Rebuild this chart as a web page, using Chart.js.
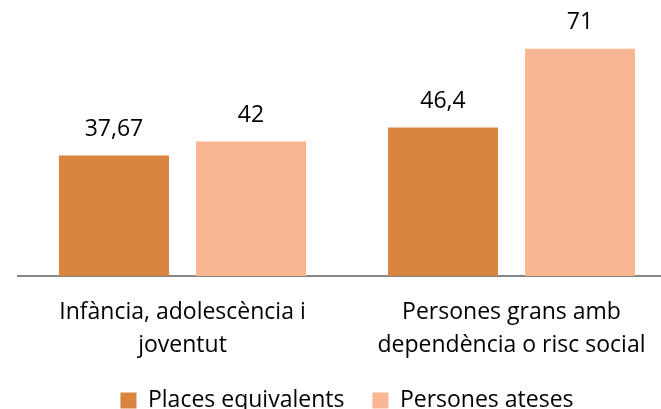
<!DOCTYPE html>
<html>
<head>
<meta charset="utf-8">
<script src="https://cdn.jsdelivr.net/npm/chart.js@4.4.1/dist/chart.umd.min.js"></script>
<style>
  html, body { margin: 0; padding: 0; background: #fff; overflow: hidden; }
  #wrap { width: 676px; height: 422px; }
</style>
</head>
<body>
<div id="wrap"><canvas id="chart"></canvas></div>
<script>
// Data
const categories = [
  ['Infància, adolescència i', 'joventut'],
  ['Persones grans amb', 'dependència o risc social'],
];
const placesEquivalents = [37.67, 46.4];
const personesAteses = [42, 71];
const seriesNames = ['Places equivalents', 'Persones ateses'];

const FONT = '"Open Sans", Lato, sans-serif';

// Value labels above each bar (comma as decimal separator)
const valueLabels = {
  id: 'valueLabels',
  afterDatasetsDraw(chart) {
    const ctx = chart.ctx;
    ctx.save();
    ctx.font = `23px ${FONT}`;
    ctx.fillStyle = '#000';
    ctx.textAlign = 'center';
    ctx.textBaseline = 'middle';
    chart.data.datasets.forEach((ds, i) => {
      chart.getDatasetMeta(i).data.forEach((bar, j) => {
        const txt = String(ds.data[j]).replace('.', ',');
        ctx.fillText(txt, bar.x, bar.y - 26);
      });
    });
    ctx.restore();
  }
};

new Chart(document.getElementById('chart'), {
  type: 'bar',
  data: {
    labels: categories,
    datasets: [
      { label: seriesNames[0], data: placesEquivalents, backgroundColor: '#D9843F' },
      { label: seriesNames[1], data: personesAteses, backgroundColor: '#F8B692' },
    ]
  },
  options: {
    responsive: true,
    maintainAspectRatio: false,
    animation: false,
    layout: { padding: { top: 20, left: 18, right: 0, bottom: 0 } },
    datasets: {
      bar: { categoryPercentage: 0.833, barPercentage: 0.803 }
    },
    plugins: {
      legend: {
        position: 'bottom',
        fullSize: false,
        labels: {
          boxWidth: 16,
          boxHeight: 16,
          padding: 28,
          color: '#000',
          font: { family: FONT, size: 23 }
        }
      },
      tooltip: { enabled: false }
    },
    scales: {
      x: {
        grid: { display: false, drawTicks: false },
        border: { color: '#868686', width: 2 },
        ticks: {
          color: '#000',
          padding: 20,
          maxRotation: 0,
          font: { family: FONT, size: 23, lineHeight: 1.43 }
        },
        // keep the label block compact so the legend sits close below it
        afterFit: scale => { scale.height = 85; }
      },
      y: {
        display: false,
        min: 0,
        max: 80
      }
    }
  },
  plugins: [valueLabels]
});
</script>
</body>
</html>
